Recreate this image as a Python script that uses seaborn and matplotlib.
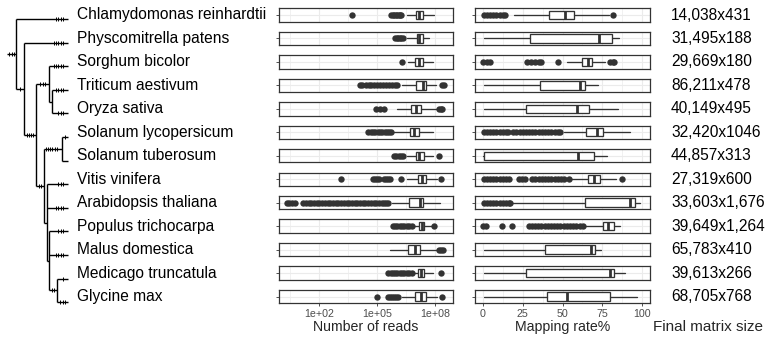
import matplotlib
matplotlib.use("Agg")
import matplotlib.pyplot as plt
from matplotlib.ticker import FixedLocator, NullFormatter
import seaborn as sns

sns.set_style("white")
plt.rcParams["font.family"] = ["Liberation Sans", "DejaVu Sans"]

species = ["Chlamydomonas reinhardtii", "Physcomitrella patens", "Sorghum bicolor",
           "Triticum aestivum", "Oryza sativa", "Solanum lycopersicum",
           "Solanum tuberosum", "Vitis vinifera", "Arabidopsis thaliana",
           "Populus trichocarpa", "Malus domestica", "Medicago truncatula",
           "Glycine max"]
matrix_size = ["14,038x431", "31,495x188", "29,669x180", "86,211x478", "40,149x495",
               "32,420x1046", "44,857x313", "27,319x600", "33,603x1,676",
               "39,649x1,264", "65,783x410", "39,613x266", "68,705x768"]

# number of reads (log10) - box stats
reads_whislo = [6.55, 6.52, 6.61, 6.27, 6.00, 5.83, 6.52, 6.52, 5.75, 6.85, 5.66, 6.90, 6.27]
reads_q1     = [6.99, 7.04, 6.96, 7.01, 6.73, 6.70, 6.99, 7.13, 6.66, 7.18, 6.58, 7.13, 6.96]
reads_med    = [7.18, 7.18, 7.18, 7.35, 6.99, 6.90, 7.18, 7.34, 7.22, 7.30, 6.96, 7.25, 7.25]
reads_q3     = [7.35, 7.35, 7.35, 7.51, 7.27, 7.18, 7.42, 7.53, 7.39, 7.44, 7.22, 7.42, 7.51]
reads_whishi = [7.94, 7.70, 7.87, 8.04, 8.08, 7.87, 7.91, 8.08, 8.25, 7.82, 8.17, 7.87, 8.08]
reads_out = [
    [3.71, 5.72, 5.80, 5.88, 5.96, 6.04, 6.12, 6.20, 6.25],
    [5.92, 6.00, 6.08, 6.16, 6.24, 6.32],
    [6.27],
    [4.10, 4.22, 4.40, 4.55, 4.70, 4.85, 5.00, 5.15, 5.30, 5.45, 5.60, 5.75, 5.90, 6.05,
     8.36, 8.48],
    [4.94, 5.14, 5.35, 8.18, 8.28, 8.34],
    [4.54, 4.66, 4.78, 4.90, 5.02, 5.14, 5.26, 5.38, 5.50, 5.62, 5.70],
    [5.87, 5.99, 6.11, 6.23, 6.35, 8.20],
    [3.12, 4.80, 4.90, 5.00, 5.09, 5.37, 5.47, 5.57, 5.66, 6.21, 8.30],
    [0.31, 0.45, 0.60, 0.74, 1.17, 1.31, 1.45, 1.59, 1.73, 1.87, 2.01, 2.15, 2.29, 2.43,
     2.57, 2.71, 2.85, 2.99, 3.13, 3.27, 3.41, 3.55, 3.69, 3.83, 3.97, 4.11, 4.25, 4.39,
     4.53, 4.67, 4.81, 4.95, 5.09, 5.23, 5.37, 5.47, 5.57],
    [5.80, 5.92, 6.04, 6.16, 6.28, 6.40, 6.52, 6.64, 6.78, 7.96],
    [8.22, 8.30, 8.39],
    [5.57, 5.69, 5.81, 5.93, 6.05, 6.17, 6.29, 6.41, 6.53, 6.65, 6.78, 8.30],
    [5.00, 5.57, 5.67, 5.77, 5.87, 5.97, 6.06, 8.34],
]

# mapping rate % - box stats
map_whislo = [19.3, 0.8, 52.8, 0.8, 0.8, 50.7, 0.3, 54.9, 18.2, 64.4, 0.8, 0.8, 0.8]
map_q1     = [41.3, 29.8, 62.3, 35.6, 27.3, 64.8, 0.8, 65.8, 64.4, 75.5, 38.8, 27.3, 40.3]
map_med    = [51.4, 72.7, 65.8, 60.8, 59.1, 71.7, 59.5, 69.6, 92.2, 78.4, 67.9, 80.1, 53.0]
map_q3     = [57.4, 81.1, 68.6, 63.9, 66.5, 75.5, 70.0, 73.4, 95.8, 82.6, 70.2, 82.6, 79.7]
map_whishi = [79.0, 85.3, 76.9, 72.3, 84.9, 92.2, 78.0, 83.6, 98.5, 86.4, 74.4, 89.5, 96.9]
map_out = [
    [0.5, 2.5, 4.5, 6.5, 8.5, 10.5, 12.5, 13.6, 82.0],
    [],
    [0.3, 2.3, 4.5, 27.7, 30.0, 32.5, 35.0, 36.7, 47.2, 80.1, 81.5, 82.6],
    [],
    [],
    [0.5, 2.5, 4.5, 6.5, 8.5, 10.5, 12.5, 14.5, 16.0, 19.0, 21.0, 23.0, 25.0, 27.0, 29.0,
     31.0, 33.0, 35.0, 37.0, 39.0, 41.0, 43.0, 45.0, 47.0, 48.6],
    [],
    [0.5, 2.5, 4.5, 6.5, 8.5, 10.5, 12.5, 14.5, 16.5, 22.4, 24.5, 26.6, 30.8, 33.0, 35.0,
     37.0, 39.0, 41.0, 43.0, 45.0, 47.0, 49.0, 51.0, 53.9, 87.4],
    [0.5, 2.5, 4.5, 6.5, 8.5, 10.5, 12.5, 14.5, 16.5, 17.2],
    [0.3, 2.0, 11.9, 18.2, 28.7, 30.7, 32.7, 34.7, 36.7, 38.7, 40.7, 42.7, 44.7, 46.7,
     48.7, 50.7, 52.7, 54.7, 56.7, 58.7, 60.7, 62.7],
    [],
    [],
    [],
]

# tree: (label, branch length, number of hash marks, children)
tree = ("", 9, 3, [
    ("Chlamydomonas reinhardtii", 52, 4, []),
    ("", 8, 1, [
        ("Physcomitrella patens", 44, 5, []),
        ("", 12, 4, [
            ("", 13, 3, [
                ("Sorghum bicolor", 19, 5, []),
                ("", 3, 0, [
                    ("Triticum aestivum", 16, 4, []),
                    ("Oryza sativa", 16, 3, [])])]),
            ("", 8, 2, [
                ("", 18, 6, [
                    ("Solanum lycopersicum", 6, 1, []),
                    ("Solanum tuberosum", 6, 0, [])]),
                ("", 3, 0, [
                    ("Vitis vinifera", 21, 3, []),
                    ("Arabidopsis thaliana", 21, 4, []),
                    ("", 2, 0, [
                        ("Populus trichocarpa", 19, 3, []),
                        ("Malus domestica", 19, 4, []),
                        ("", 8, 2, [
                            ("Medicago truncatula", 11, 1, []),
                            ("Glycine max", 11, 3, [])])])])])])])])

W, H = 769, 341
dark = "#333333"
grid = "#EBEBEB"
fig = plt.figure(figsize=(W / 100, H / 100), dpi=100)


def px_axes(x0, y0, w, h):
    return fig.add_axes([x0 / W, 1 - (y0 + h) / H, w / W, h / H])


# ---- tree ----
tax = px_axes(0, 0, 77, H)
tax.set_xlim(0, 77)
tax.set_ylim(H, 0)
tax.axis("off")
leaf_y0, leaf_step = 19, 23.6
leaf_count = [0]


def hashes(xs, xe, y, n):
    if n == 0:
        return
    sp = 2.3
    if xe - xs > 15:
        end = xe - 5
    else:
        end = (xs + xe) / 2 + (n - 1) * sp / 2
    xs_ = [end - k * sp for k in range(n)]
    tax.vlines(xs_, y - 2, y + 2, color="black", lw=0.7)


def draw_node(node, x_start):
    label, blen, nh, children = node
    x_end = x_start + blen
    if not children:
        y = leaf_y0 + leaf_count[0] * leaf_step
        leaf_count[0] += 1
    else:
        ys = [draw_node(c, x_end) for c in children]
        y = (min(ys) + max(ys)) / 2
        tax.plot([x_end, x_end], [min(ys), max(ys)], color="black", lw=1.0,
                 solid_capstyle="butt")
    tax.plot([x_start, x_end], [y, y], color="black", lw=1.0, solid_capstyle="butt")
    hashes(x_start, x_end, y, nh)
    return y


draw_node(tree, 7)

# ---- box rows ----
row_c0, row_step, panel_h = 15, 23.46, 13.4
bstyle = dict(showfliers=False, showcaps=False, patch_artist=True, widths=0.75,
              positions=[0], orientation="horizontal",
              boxprops=dict(facecolor="white", edgecolor=dark, lw=0.95),
              whiskerprops=dict(color=dark, lw=0.95),
              medianprops=dict(color=dark, lw=2.0))


def style_panel(ax, bottom):
    ax.set_ylim(-0.6, 0.6)
    ax.set_yticks([0])
    ax.yaxis.set_major_formatter(NullFormatter())
    ax.grid(which="major", color=grid, lw=0.8, zorder=0)
    ax.grid(which="minor", axis="x", color=grid, lw=0.5, zorder=0)
    ax.set_axisbelow(True)
    for s in ax.spines.values():
        s.set_color(dark)
        s.set_linewidth(0.9)
    ax.tick_params(axis="y", left=True, length=2.5, width=0.6, color=dark)
    ax.tick_params(axis="x", which="minor", length=0)
    if bottom:
        ax.tick_params(axis="x", which="major", bottom=True, length=2.5, width=0.6,
                       color=dark, labelsize=7.7, labelcolor="#4D4D4D", pad=1.5)
    else:
        ax.tick_params(axis="x", which="major", bottom=False, labelbottom=False)
    ax.set_xlabel("")
    ax.set_ylabel("")


n = len(species)
for i in range(n):
    cy = row_c0 + i * row_step
    bottom = i == n - 1

    ax1 = px_axes(279.3, cy - panel_h / 2, 174, panel_h)
    ax1.set_xscale("log")
    st = dict(whislo=10 ** reads_whislo[i], q1=10 ** reads_q1[i], med=10 ** reads_med[i],
              q3=10 ** reads_q3[i], whishi=10 ** reads_whishi[i])
    if reads_out[i]:
        sns.scatterplot(x=[10 ** v for v in reads_out[i]], y=[0] * len(reads_out[i]),
                        ax=ax1, color=dark, s=21, linewidth=0, zorder=2)
    ax1.bxp([st], **bstyle)
    ax1.set_xlim(10 ** -0.07, 10 ** 8.94)
    ax1.xaxis.set_major_locator(FixedLocator([1e2, 1e5, 1e8]))
    ax1.xaxis.set_minor_locator(FixedLocator([10 ** 0.5, 10 ** 3.5, 10 ** 6.5]))
    ax1.xaxis.set_minor_formatter(NullFormatter())
    ax1.set_xticklabels(["1e+02", "1e+05", "1e+08"])
    style_panel(ax1, bottom)

    ax2 = px_axes(475, cy - panel_h / 2, 175, panel_h)
    st = dict(whislo=map_whislo[i], q1=map_q1[i], med=map_med[i], q3=map_q3[i],
              whishi=map_whishi[i])
    if map_out[i]:
        sns.scatterplot(x=map_out[i], y=[0] * len(map_out[i]), ax=ax2, color=dark,
                        s=21, linewidth=0, zorder=2)
    ax2.bxp([st], **bstyle)
    ax2.set_xlim(-5, 105)
    ax2.xaxis.set_major_locator(FixedLocator([0, 25, 50, 75, 100]))
    ax2.xaxis.set_minor_locator(FixedLocator([12.5, 37.5, 62.5, 87.5]))
    ax2.set_xticklabels(["0", "25", "50", "75", "100"])
    style_panel(ax2, bottom)

    fig.text(77.3 / W, 1 - cy / H, species[i], fontsize=11.2, va="center", ha="left",
             color="black")
    fig.text(671 / W, 1 - cy / H, matrix_size[i], fontsize=11.2, va="center",
             ha="left", color="black")

fig.text(366 / W, 1 - 327 / H, "Number of reads", fontsize=10.2, ha="center",
         va="center")
fig.text(562.5 / W, 1 - 327 / H, "Mapping rate%", fontsize=10.2, ha="center",
         va="center")
fig.text(653 / W, 1 - 327 / H, "Final matrix size", fontsize=11, ha="left",
         va="center")

fig.savefig("out.png", dpi=100)
